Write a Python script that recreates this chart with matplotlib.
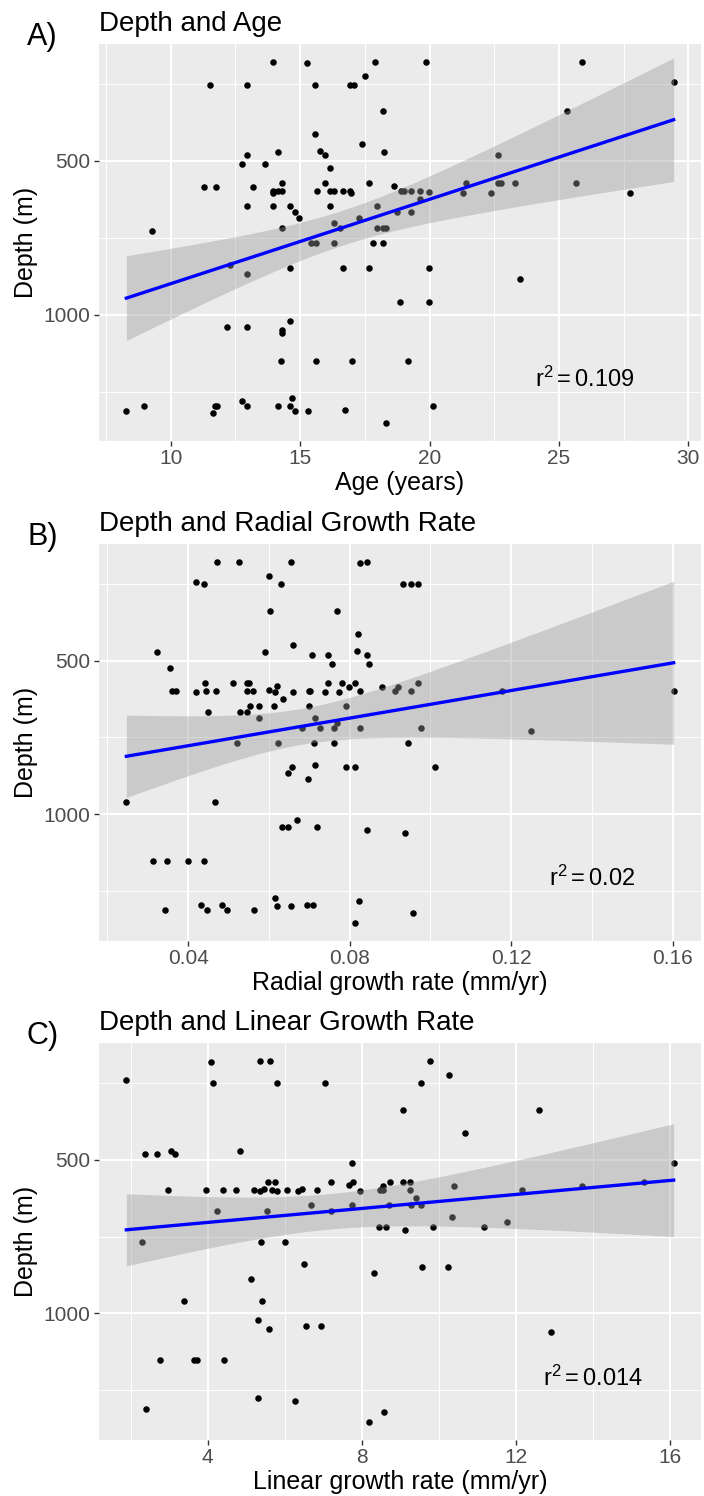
import numpy as np
import matplotlib
matplotlib.use('Agg')
import matplotlib.pyplot as plt

# panel A: depth vs age
age = [13.96, 15.28, 17.89, 19.87, 25.89,
       11.51, 12.96, 15.59, 16.92, 17.07, 17.51,
       29.43,
       18.22, 25.31,
       15.59,
       17.39,
       14.13, 15.77, 15.97, 18.24,
       12.96, 22.65,
       12.75, 13.64, 16.15,
       14.29, 15.97, 17.65, 22.65, 22.77, 23.32, 25.66, 21.41,
       11.30, 11.75, 13.19, 18.63,
       13.96, 14.13, 14.29, 13.96, 15.65, 16.15, 16.30, 16.64, 16.92, 16.98, 18.89, 19.01, 19.30, 19.63, 19.98,
       21.31, 22.38, 27.76,
       12.96, 13.96, 14.63, 16.15, 17.98, 19.63,
       14.82, 14.97, 18.75, 19.30,
       17.29,
       16.30, 16.53, 14.29, 17.98, 18.31, 18.22,
       9.29,
       15.41, 15.62, 16.30, 17.82, 18.19,
       12.30, 14.63, 16.64, 17.65, 19.98,
       12.96,
       23.48,
       18.87, 19.98,
       14.63,
       12.19, 12.96,
       14.29, 14.29,
       14.26, 15.62, 17.01, 19.18,
       12.75, 14.69,
       8.29, 8.97, 11.63, 11.71, 11.78, 12.96, 14.13, 14.63, 14.79, 15.31, 16.74, 20.13,
       18.31]
depth_a = [180, 183, 180, 180, 180,
           254, 254, 254, 254, 254, 225,
           245,
           338, 338,
           414,
           447,
           472, 467, 481, 472,
           481, 481,
           512, 512, 523,
           573, 573, 573, 573, 573, 573, 573, 573,
           584, 584, 584, 581,
           598, 598, 598, 606, 598, 598, 598, 598, 598, 604, 598, 598, 598, 598, 601,
           604, 604, 604,
           647, 647, 647, 647, 647, 623,
           666, 685, 666, 666,
           685,
           701, 719, 719, 719, 719, 719,
           729,
           767, 767, 767, 767, 767,
           840, 847, 847, 847, 847,
           867,
           885,
           960, 960,
           1019,
           1039, 1039,
           1050, 1059,
           1151, 1151, 1151, 1151,
           1281, 1271,
           1311, 1297, 1318, 1297, 1295, 1297, 1297, 1296, 1311, 1311, 1310, 1295,
           1351]

# panel B: depth vs radial growth rate
radial = [0.0472, 0.0525, 0.0654, 0.0826, 0.0844,
          0.0419, 0.0438, 0.0599, 0.0631, 0.0931, 0.0951, 0.0968,
          0.0602, 0.0768,
          0.0821,
          0.0659,
          0.0324, 0.0591, 0.0707, 0.0746, 0.0817, 0.0842,
          0.0354, 0.0756, 0.0847,
          0.0442, 0.0510, 0.0545, 0.0550, 0.0747, 0.0780, 0.0797, 0.0812, 0.0880, 0.0919, 0.0968,
          0.0361, 0.0369, 0.0419, 0.0445, 0.0470, 0.0545, 0.0560, 0.0600, 0.0616, 0.0621,
          0.0660, 0.0699, 0.0702, 0.0738, 0.0773, 0.0825, 0.0913, 0.0952, 0.1178, 0.1602,
          0.0635,
          0.0449, 0.0528, 0.0545, 0.0554, 0.0576, 0.0612, 0.0698, 0.0791,
          0.0576, 0.0715,
          0.0681, 0.0727, 0.0762, 0.0768, 0.0826, 0.0977,
          0.1249,
          0.0522, 0.0623, 0.0711, 0.0761, 0.0944,
          0.0713, 0.0658, 0.0791, 0.0813, 0.1011,
          0.0646,
          0.0696,
          0.0247, 0.0466,
          0.0669, 0.0632, 0.0648, 0.0720,
          0.0842, 0.0938,
          0.0313, 0.0348, 0.0400, 0.0439,
          0.0614, 0.0824,
          0.0343, 0.0432, 0.0446, 0.0483, 0.0497, 0.0564, 0.0621, 0.0654, 0.0695, 0.0709, 0.0957,
          0.0814]
depth_b = [179, 179, 179, 181, 179,
           243, 252, 225, 252, 252, 252, 252,
           338, 338,
           414,
           448,
           472, 472, 483, 483, 468, 483,
           523, 512, 512,
           574, 574, 574, 574, 574, 574, 585, 574, 585, 585, 574,
           598, 598, 604, 598, 598, 598, 598, 597, 604, 583,
           604, 598, 600, 604, 604, 600, 598, 600, 600, 600,
           625,
           667, 667, 667, 648, 648, 648, 648, 648,
           686, 686,
           720, 720, 720, 705, 720, 720,
           729,
           768, 768, 768, 768, 768,
           841, 848, 848, 848, 848,
           867,
           887,
           961, 961,
           1021, 1041, 1041, 1041,
           1052, 1061,
           1153, 1153, 1153, 1153,
           1274, 1285,
           1314, 1298, 1314, 1298, 1312, 1314, 1300, 1300, 1298, 1298, 1321,
           1355]

# panel C: depth vs linear growth rate
linear = [1.885, 4.08, 5.36, 5.62, 9.78,
          4.14, 5.79, 7.04, 9.54, 10.26,
          9.07, 12.59,
          10.69,
          2.36, 2.69, 3.04, 3.16, 4.84,
          7.75, 16.10,
          5.57, 5.75, 7.21, 7.66, 7.76, 8.56, 8.74, 9.06, 9.26, 10.40, 13.73, 15.34,
          2.96, 3.95, 4.40, 4.74, 5.19, 5.35, 5.45, 5.66, 5.81, 6.06, 6.34, 6.45, 6.83,
          7.95, 8.47, 8.54, 9.26, 12.15,
          9.41,
          6.67, 7.74, 8.70, 9.29, 9.55,
          4.24, 5.55, 7.21,
          10.34,
          11.76,
          8.45, 8.63, 9.85, 11.18, 9.12,
          2.28, 5.39, 6.00,
          6.49, 9.56, 10.24, 8.32,
          5.11,
          3.39, 5.40,
          5.30, 6.54, 6.94, 5.59, 12.91,
          2.76, 3.64, 3.72, 4.41,
          5.31, 6.26,
          2.40, 8.58, 8.19]
depth_c = [242, 181, 179, 179, 179,
           252, 252, 252, 252, 225,
           337, 337,
           413,
           482, 482, 470, 482, 471,
           512, 512,
           574, 574, 574, 582, 574, 584, 574, 573, 573, 584, 584, 572,
           598, 598, 598, 600, 598, 603, 596, 598, 603, 598, 603, 596, 598,
           603, 600, 600, 600, 600,
           624,
           647, 647, 647, 647, 647,
           666, 666, 666,
           686,
           702,
           720, 720, 720, 720, 728,
           767, 767, 767,
           840, 848, 848, 867,
           887,
           960, 960,
           1020, 1041, 1041, 1052, 1060,
           1153, 1153, 1153, 1153,
           1274, 1284,
           1312, 1321, 1353]

depth_ticks = [500, 1000]
depth_minor = [250, 750, 1250]
age_ticks = [10, 15, 20, 25, 30]
radial_ticks = [0.04, 0.08, 0.12, 0.16]
radial_tick_labels = ['0.04', '0.08', '0.12', '0.16']
linear_ticks = [4, 8, 12, 16]
r2_labels = ['0.109', '0.02', '0.014']

plt.rcParams['font.family'] = 'Liberation Sans'
plt.rcParams['mathtext.fontset'] = 'custom'
plt.rcParams['mathtext.rm'] = 'Liberation Sans'
plt.rcParams['mathtext.it'] = 'Liberation Sans'


def fit_band(x, y, n=80):
    # lm fit with 95% confidence band, like geom_smooth(method = "lm")
    x = np.asarray(x, float)
    y = np.asarray(y, float)
    slope, intercept = np.polyfit(x, y, 1)
    xs = np.linspace(x.min(), x.max(), n)
    ys = intercept + slope * xs
    resid = y - (intercept + slope * x)
    s = np.sqrt(np.sum(resid ** 2) / (len(x) - 2))
    sxx = np.sum((x - x.mean()) ** 2)
    se = s * np.sqrt(1 / len(x) + (xs - x.mean()) ** 2 / sxx)
    t = 1.98
    return xs, ys, ys - t * se, ys + t * se


def draw_panel(ax, x, y, title, xlabel, xticks, xlabels, r2, r2_x):
    ax.set_facecolor('#EBEBEB')
    ax.scatter(x, y, s=22, color='black', lw=0, zorder=2)
    xs, ys, lo, hi = fit_band(x, y)
    ax.fill_between(xs, lo, hi, color='#999999', alpha=0.4, lw=0, zorder=3)
    ax.plot(xs, ys, color='blue', lw=2.4, zorder=4)

    step = xticks[1] - xticks[0]
    xminor = [xticks[0] - step / 2] + [t + step / 2 for t in xticks]
    ax.set_xticks(xticks)
    ax.set_xticklabels(xlabels)
    ax.set_xticks(xminor, minor=True)
    ax.set_yticks(depth_ticks)
    ax.set_yticks(depth_minor, minor=True)

    # ggplot style 5% expansion, set after ticks so they don't widen the view
    xr = max(x) - min(x)
    ax.set_xlim(min(x) - 0.05 * xr, max(x) + 0.05 * xr)
    yr = max(y) - min(y)
    ax.set_ylim(max(y) + 0.05 * yr, min(y) - 0.05 * yr)

    ax.grid(which='major', color='white', lw=1.5)
    ax.grid(which='minor', color='white', lw=0.75)
    ax.set_axisbelow(True)
    for sp in ax.spines.values():
        sp.set_visible(False)
    ax.tick_params(which='major', length=3.5, width=1, color='#333333',
                   labelsize=15, labelcolor='#4D4D4D', pad=2.5)
    ax.tick_params(which='minor', length=0)

    ax.set_xlabel(xlabel, fontsize=18, labelpad=2)
    ax.set_ylabel('Depth (m)', fontsize=18, labelpad=4)
    ax.set_title(title, loc='left', fontsize=20, pad=9.5)
    ax.text(r2_x, 1210, r'$\mathrm{r}^2 = %s$' % r2, fontsize=17,
            ha='center', va='center', zorder=5)


def draw_plot():
    fig = plt.figure(figsize=(7.04, 14.96), dpi=100)
    left, width, height = 99 / 704, 602 / 704, 397 / 1496
    tops = [44, 544, 1043]
    axs = [fig.add_axes([left, 1 - (t + 397) / 1496, width, height]) for t in tops]

    draw_panel(axs[0], age, depth_a, 'Depth and Age', 'Age (years)',
               age_ticks, [str(t) for t in age_ticks], r2_labels[0], 26.0)
    draw_panel(axs[1], radial, depth_b, 'Depth and Radial Growth Rate',
               'Radial growth rate (mm/yr)', radial_ticks, radial_tick_labels,
               r2_labels[1], 0.14)
    draw_panel(axs[2], linear, depth_c, 'Depth and Linear Growth Rate',
               'Linear growth rate (mm/yr)', linear_ticks,
               [str(t) for t in linear_ticks], r2_labels[2], 14.0)

    for lab, t in zip(['A)', 'B)', 'C)'], tops):
        fig.text(27 / 704, 1 - (t - 7) / 1496, lab, fontsize=22,
                 ha='left', va='center')

    fig.savefig('out.png', dpi=100)


if __name__ == '__main__':
    draw_plot()
